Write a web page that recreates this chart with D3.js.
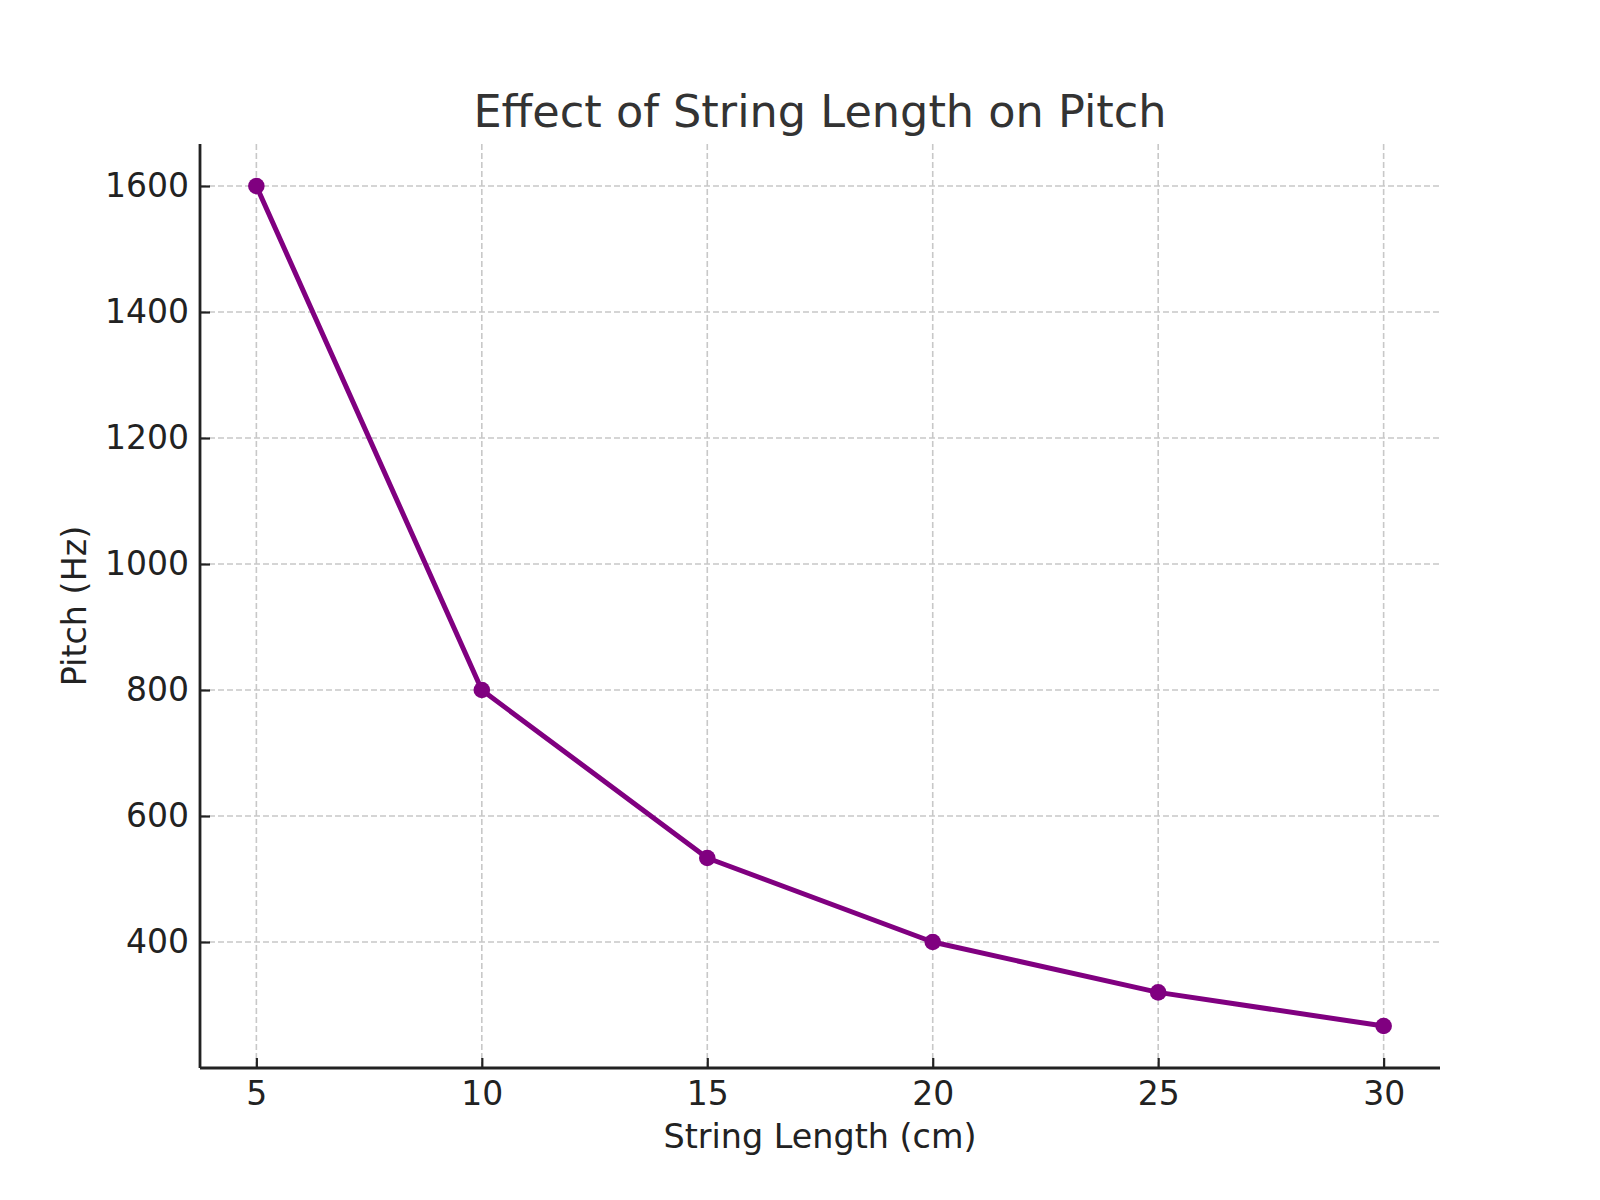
<!DOCTYPE html>
<html lang="en">
<head>
<meta charset="utf-8">
<script src="https://d3js.org/d3.v7.min.js"></script>
<style>
  body { margin: 0; background: #fff; }
  text { font-family: "DejaVu Sans", sans-serif; }
</style>
</head>
<body>
<script>
// chart data
const lengths = [5, 10, 15, 20, 25, 30];
const pitches = [1600, 800, 533.33, 400, 320, 266.67];
const xTicks = [5, 10, 15, 20, 25, 30];
const yTicks = [400, 600, 800, 1000, 1200, 1400, 1600];

const width = 1600, height = 1200;
const plotLeft = 200, plotRight = 1440, plotTop = 144, plotBottom = 1068;

const svg = d3.select("body").append("svg")
    .attr("width", width)
    .attr("height", height);

// matplotlib style 5% padding around the data
const x = d3.scaleLinear().domain([3.75, 31.25]).range([plotLeft, plotRight]);
const y = d3.scaleLinear().domain([200, 1666.67]).range([plotBottom, plotTop]);

// grid
const grid = svg.append("g")
    .attr("stroke", "#c8c8c8")
    .attr("stroke-width", 1.6)
    .attr("stroke-dasharray", "6,3");
grid.selectAll(".gx").data(xTicks).join("line")
    .attr("x1", d => x(d)).attr("x2", d => x(d))
    .attr("y1", plotTop).attr("y2", plotBottom);
grid.selectAll(".gy").data(yTicks).join("line")
    .attr("x1", plotLeft).attr("x2", plotRight)
    .attr("y1", d => y(d)).attr("y2", d => y(d));

// axes, ticks pointing inward
const xAxis = svg.append("g")
    .attr("transform", `translate(0,${plotBottom})`)
    .call(d3.axisBottom(x).tickValues(xTicks).tickSize(-10).tickPadding(14).tickFormat(d3.format("d")));
const yAxis = svg.append("g")
    .attr("transform", `translate(${plotLeft},0)`)
    .call(d3.axisLeft(y).tickValues(yTicks).tickSize(-10).tickPadding(11).tickFormat(d3.format("d")));

[xAxis, yAxis].forEach(a => {
  a.select(".domain").attr("stroke", "#222").attr("stroke-width", 2.8);
  a.selectAll(".tick line").attr("stroke", "#222").attr("stroke-width", 2.2);
  a.selectAll(".tick text").attr("fill", "#222").style("font-size", "33px");
});
// stretch the spines to the full plot area
xAxis.select(".domain").attr("d", `M${plotLeft},0H${plotRight}`);
yAxis.select(".domain").attr("d", `M0,${plotBottom}V${plotTop}`);
xAxis.selectAll(".tick text").attr("dy", "0.71em");

// line and markers
const pts = lengths.map((l, i) => ({ l: l, p: pitches[i] }));
svg.append("path")
    .datum(pts)
    .attr("fill", "none")
    .attr("stroke", "purple")
    .attr("stroke-width", 5)
    .attr("stroke-linejoin", "round")
    .attr("d", d3.line().x(d => x(d.l)).y(d => y(d.p)));
svg.selectAll(".dot").data(pts).join("circle")
    .attr("cx", d => x(d.l))
    .attr("cy", d => y(d.p))
    .attr("r", 8.3)
    .attr("fill", "purple");

// title and labels
svg.append("text")
    .attr("x", (plotLeft + plotRight) / 2).attr("y", 127)
    .attr("text-anchor", "middle")
    .attr("fill", "#333")
    .style("font-size", "44.6px")
    .text("Effect of String Length on Pitch");
svg.append("text")
    .attr("x", (plotLeft + plotRight) / 2).attr("y", 1148)
    .attr("text-anchor", "middle")
    .attr("fill", "#222")
    .style("font-size", "33.4px")
    .text("String Length (cm)");
svg.append("text")
    .attr("transform", `translate(86,${(plotTop + plotBottom) / 2}) rotate(-90)`)
    .attr("text-anchor", "middle")
    .attr("fill", "#222")
    .style("font-size", "33.4px")
    .text("Pitch (Hz)");
</script>
</body>
</html>
